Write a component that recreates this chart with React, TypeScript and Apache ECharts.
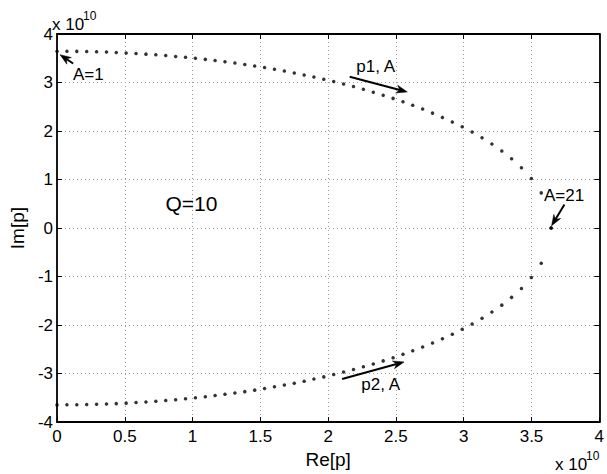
import React, { useEffect, useRef } from 'react';
import * as echarts from 'echarts';

// Re[p] in units of 1e10
const reValues = [
  0, 0.073, 0.146, 0.219, 0.292, 0.365, 0.437, 0.510, 0.583, 0.656,
  0.729, 0.802, 0.875, 0.948, 1.021, 1.094, 1.166, 1.239, 1.312, 1.385,
  1.458, 1.531, 1.604, 1.677, 1.750, 1.823, 1.895, 1.968, 2.041, 2.114,
  2.187, 2.260, 2.333, 2.406, 2.479, 2.552, 2.624, 2.697, 2.770, 2.843,
  2.916, 2.989, 3.062, 3.135, 3.208, 3.281, 3.353, 3.426, 3.499, 3.572,
  3.645,
];

// Im[p] of the p1 branch, units of 1e10
const imUpper = [
  3.645, 3.644, 3.642, 3.638, 3.633, 3.627, 3.619, 3.609, 3.598, 3.585,
  3.571, 3.556, 3.538, 3.520, 3.499, 3.477, 3.453, 3.428, 3.401, 3.372,
  3.341, 3.308, 3.273, 3.237, 3.198, 3.157, 3.113, 3.068, 3.020, 2.969,
  2.916, 2.860, 2.801, 2.738, 2.673, 2.603, 2.530, 2.452, 2.369, 2.281,
  2.187, 2.086, 1.978, 1.860, 1.731, 1.589, 1.429, 1.244, 1.021, 0.725,
  0,
];

// Im[p] of the p2 branch, units of 1e10
const imLower = [
  -3.645, -3.644, -3.642, -3.638, -3.633, -3.627, -3.619, -3.609, -3.598, -3.585,
  -3.571, -3.556, -3.538, -3.520, -3.499, -3.477, -3.453, -3.428, -3.401, -3.372,
  -3.341, -3.308, -3.273, -3.237, -3.198, -3.157, -3.113, -3.068, -3.020, -2.969,
  -2.916, -2.860, -2.801, -2.738, -2.673, -2.603, -2.530, -2.452, -2.369, -2.281,
  -2.187, -2.086, -1.978, -1.860, -1.731, -1.589, -1.429, -1.244, -1.021, -0.725,
  0,
];

const xTicks = { min: 0, max: 4, interval: 0.5 };
const yTicks = { min: -4, max: 4, interval: 1 };

const xName = 'Re[p]';
const yName = 'Im[p]';
const scaleNote = 'x 10';
const scaleExp = '10';
const qLabel = 'Q=10';
const qPos = [0.8, 0.5];

// annotation texts and arrows (data coordinates)
const annLabels = ['A=1', 'p1, A', 'A=21', 'p2, A'];
const annTextPos = [
  [0.117, 3.167],
  [2.208, 3.336],
  [3.592, 0.662],
  [2.244, -3.228],
];
const annArrowFrom = [
  [0.119, 3.391],
  [2.159, 3.12],
  [3.743, 0.485],
  [2.103, -3.112],
];
const annArrowTo = [
  [0.022, 3.574],
  [2.584, 2.807],
  [3.648, 0.045],
  [2.56, -2.76],
];

const FONT = '"Liberation Sans", Arial, Helvetica, sans-serif';

export default function App() {
  const ref = useRef<HTMLDivElement>(null);

  useEffect(() => {
    if (!ref.current) return;
    const chart = echarts.init(ref.current, undefined, { renderer: 'svg' });

    const axisLine = { show: true, onZero: false, lineStyle: { color: '#000', width: 1.8 } };
    const axisTick = { show: true, inside: true, length: 5, lineStyle: { color: '#000', width: 1 } };
    const gridLine = { show: true, lineStyle: { color: '#999', width: 1, type: [1, 3] as any } };

    const upperData = reValues.map((x, i) => [x, imUpper[i]]);
    const lowerData = reValues.map((x, i) => [x, imLower[i]]);

    chart.setOption({
      animation: false,
      backgroundColor: '#fff',
      textStyle: { fontFamily: FONT },
      grid: { left: 52, right: 6, top: 34, bottom: 47, containLabel: false },
      xAxis: [
        {
          type: 'value', position: 'bottom', ...xTicks,
          axisLine, axisTick,
          axisLabel: { color: '#000', fontSize: 17, margin: 6, fontFamily: FONT, showMinLabel: true, showMaxLabel: true },
          splitLine: gridLine,
          name: xName, nameLocation: 'middle', nameGap: 23,
          nameTextStyle: { color: '#000', fontSize: 19, fontFamily: FONT },
        },
        {
          type: 'value', position: 'top', ...xTicks,
          axisLine, axisTick, axisLabel: { show: false }, splitLine: { show: false },
        },
      ],
      yAxis: [
        {
          type: 'value', position: 'left', ...yTicks,
          axisLine, axisTick,
          axisLabel: { color: '#000', fontSize: 17, margin: 4, fontFamily: FONT, showMinLabel: true, showMaxLabel: true },
          splitLine: gridLine,
          name: yName, nameLocation: 'middle', nameGap: 25,
          nameTextStyle: { color: '#000', fontSize: 19, fontFamily: FONT },
        },
        {
          type: 'value', position: 'right', ...yTicks,
          axisLine, axisTick, axisLabel: { show: false }, splitLine: { show: false },
        },
      ],
      series: [
        {
          type: 'scatter', xAxisIndex: 0, yAxisIndex: 0, data: upperData,
          symbol: 'circle', symbolSize: 3.5, itemStyle: { color: '#000' }, silent: true,
        },
        {
          type: 'scatter', xAxisIndex: 0, yAxisIndex: 0, data: lowerData,
          symbol: 'circle', symbolSize: 3.5, itemStyle: { color: '#000' }, silent: true,
        },
      ],
    });

    const toPx = (p: number[]) => chart.convertToPixel({ seriesIndex: 0 }, p) as number[];
    const graphics: any[] = [];

    annLabels.forEach((label, i) => {
      const tp = toPx(annTextPos[i]);
      graphics.push({
        type: 'text', x: tp[0], y: tp[1], z: 100,
        style: { text: label, fill: '#000', font: `17px ${FONT}`, textAlign: 'left', textVerticalAlign: 'middle' },
      });
      const a = toPx(annArrowFrom[i]);
      const b = toPx(annArrowTo[i]);
      const dx = b[0] - a[0];
      const dy = b[1] - a[1];
      const len = Math.hypot(dx, dy) || 1;
      const ux = dx / len;
      const uy = dy / len;
      const nx = -uy;
      const ny = ux;
      const L = 11;
      const W = 4;
      const back = [b[0] - ux * L, b[1] - uy * L];
      const notch = [b[0] - ux * L * 0.7, b[1] - uy * L * 0.7];
      graphics.push({
        type: 'line', z: 100,
        shape: { x1: a[0], y1: a[1], x2: notch[0], y2: notch[1] },
        style: { stroke: '#000', lineWidth: 2 },
      });
      graphics.push({
        type: 'polygon', z: 100,
        shape: {
          points: [
            [b[0], b[1]],
            [back[0] + nx * W, back[1] + ny * W],
            notch,
            [back[0] - nx * W, back[1] - ny * W],
          ],
        },
        style: { fill: '#000', stroke: '#000', lineWidth: 0.5 },
      });
    });

    const qp = toPx(qPos);
    graphics.push({
      type: 'text', x: qp[0], y: qp[1], z: 100,
      style: { text: qLabel, fill: '#000', font: `21px ${FONT}`, textAlign: 'left', textVerticalAlign: 'middle' },
    });

    // scale notes (x 10^10)
    graphics.push(
      { type: 'text', x: 52, y: 24, style: { text: scaleNote, fill: '#000', font: `17px ${FONT}`, textAlign: 'left', textVerticalAlign: 'middle' } },
      { type: 'text', x: 83, y: 16, style: { text: scaleExp, fill: '#000', font: `12px ${FONT}`, textAlign: 'left', textVerticalAlign: 'middle' } },
      { type: 'text', x: 555, y: 464, style: { text: scaleNote, fill: '#000', font: `17px ${FONT}`, textAlign: 'left', textVerticalAlign: 'middle' } },
      { type: 'text', x: 586, y: 456, style: { text: scaleExp, fill: '#000', font: `12px ${FONT}`, textAlign: 'left', textVerticalAlign: 'middle' } },
    );

    chart.setOption({ graphic: graphics });

    return () => chart.dispose();
  }, []);

  return (
    <div
      ref={ref}
      style={{ position: 'fixed', left: 0, top: 0, width: 607, height: 474, background: '#fff' }}
    />
  );
}
